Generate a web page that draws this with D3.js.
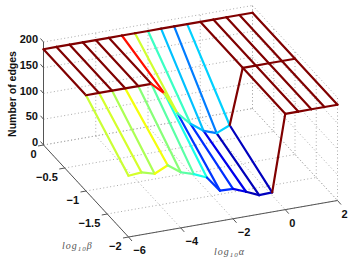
<!DOCTYPE html>
<html lang="en">
<head>
	<meta charset="UTF-8">
	<title>edges surface</title>
	<script src="https://cdnjs.cloudflare.com/ajax/libs/d3/7.8.5/d3.min.js"></script>
	<style>
	html, body { margin: 0; padding: 0; background: #fff; }
	svg { display: block; }
	text { font-family: "Liberation Sans", Arial, sans-serif; font-weight: bold; font-size: 11px; fill: #111; }
	.axisname { font-family: "Liberation Serif", serif; font-style: italic; font-weight: normal; font-size: 10px; fill: #555; letter-spacing: 1px; }
	.grid { fill: none; stroke: #aaa; stroke-width: 1px; stroke-dasharray: 1 2.5; }
	.axis { fill: none; stroke: #555; stroke-width: 1px; }
	.mesh { fill: none; stroke-width: 2.2px; stroke-linecap: round; }
	</style>
</head>
<body>
	<svg id="svg" width="354" height="265"></svg>
	<script>
		// grid of the surface
		var alphas = [-6, -5.5, -5, -4.5, -4, -3.5, -3, -2.5, -2, -1.5, -1, -0.5, 0, 0.5, 1, 1.5, 2];
		var betas = [0, -1, -2];

		// number of edges, one list per beta
		var edgesBeta0 = [186, 186, 186, 186, 186, 186, 186, 186, 186, 186, 186, 186, 186, 186, 186, 186, 186];
		var edgesBeta1 = [186, 186, 186, 186, 186, 186, 163, 120, 95, 77, 68, 79, 186, 186, 186, 186, 186];
		var edgesBeta2 = [119, 121, 114, 126, 108, 100, 89, 59, 58, 48, 37, 38, 186, 186, 186, 186, 186];
		var rows = [edgesBeta0, edgesBeta1, edgesBeta2];

		var alphaTicks = [-6, -4, -2, 0, 2];
		var betaTicks = [0, -0.5, -1, -1.5, -2];
		var zTicks = [0, 50, 100, 150, 200];

		var svg = d3.select('#svg');

		// fixed view of the box, each axis moves the point along its own screen direction
		var alphaX = d3.scaleLinear().domain([-6, 2]).range([0, 209]),
			alphaY = d3.scaleLinear().domain([-6, 2]).range([0, -36.5]),
			betaX = d3.scaleLinear().domain([0, -2]).range([43.5, 128.5]),
			betaY = d3.scaleLinear().domain([0, -2]).range([0, 92]),
			zY = d3.scaleLinear().domain([0, 200]).range([145, 42]);

		function project(a, b, z) {
			return [alphaX(a) + betaX(b), alphaY(a) + betaY(b) + zY(z)];
		}

		// jet colormap, stops picked by eye against the picture
		var jet = d3.scaleLinear()
			.domain([28, 52, 85, 128, 165, 186])
			.range(['#00008f', '#0000ff', '#00ffff', '#ffff00', '#ff0000', '#800000'])
			.clamp(true);

		var line = d3.line();

		function addLine(cls, pts) {
			return svg.append('path').attr('class', cls).attr('d', line(pts));
		}

		// dotted grid on floor and the two back walls
		alphaTicks.forEach(function (a) {
			addLine('grid', [project(a, 0, 0), project(a, -2, 0)]);
			addLine('grid', [project(a, 0, 0), project(a, 0, 200)]);
		});
		betaTicks.forEach(function (b) {
			addLine('grid', [project(-6, b, 0), project(2, b, 0)]);
			addLine('grid', [project(2, b, 0), project(2, b, 200)]);
		});
		zTicks.forEach(function (z) {
			addLine('grid', [project(-6, 0, z), project(2, 0, z)]);
			addLine('grid', [project(2, 0, z), project(2, -2, z)]);
		});

		// axis lines
		addLine('axis', [project(-6, 0, 200), project(-6, 0, 0), project(-6, -2, 0), project(2, -2, 0)]);

		// tick marks
		zTicks.forEach(function (z) {
			var p = project(-6, 0, z);
			addLine('axis', [p, [p[0] - 3, p[1] - 3.5]]);
		});
		betaTicks.forEach(function (b) {
			var p = project(-6, b, 0);
			addLine('axis', [p, [p[0] - 5.5, p[1] + 1]]);
		});
		alphaTicks.forEach(function (a) {
			var p = project(a, -2, 0);
			addLine('axis', [p, [p[0] + 3.5, p[1] + 4]]);
		});

		// mesh segments take the colour of the vertex they end on
		var segments = [];
		alphas.forEach(function (a, j) {
			betas.forEach(function (b, i) {
				if (i > 0) segments.push({ from: [a, betas[i - 1], rows[i - 1][j]], to: [a, b, rows[i][j]] });
			});
		});
		betas.forEach(function (b, i) {
			alphas.forEach(function (a, j) {
				if (j > 0) segments.push({ from: [alphas[j - 1], b, rows[i][j - 1]], to: [a, b, rows[i][j]] });
			});
		});

		svg.selectAll('path.mesh')
			.data(segments)
			.enter().append('path')
			.attr('class', 'mesh')
			.attr('stroke', function (d) { return jet(d.to[2]); })
			.attr('d', function (d) { return line([project.apply(null, d.from), project.apply(null, d.to)]); });

		function minus(v) {
			return String(v).replace('-', '\u2212');
		}

		// tick labels
		svg.selectAll('text.zt')
			.data(zTicks)
			.enter().append('text')
			.attr('class', 'zt')
			.attr('text-anchor', 'end')
			.attr('x', function (d) { return project(-6, 0, d)[0] - 5.5; })
			.attr('y', function (d) { return project(-6, 0, d)[1] + 1; })
			.text(minus);

		svg.selectAll('text.bt')
			.data(betaTicks)
			.enter().append('text')
			.attr('class', 'bt')
			.attr('text-anchor', 'end')
			.attr('x', function (d) { return project(-6, d, 0)[0] - 7; })
			.attr('y', function (d) { return project(-6, d, 0)[1] + 13; })
			.text(minus);

		svg.selectAll('text.at')
			.data(alphaTicks)
			.enter().append('text')
			.attr('class', 'at')
			.attr('text-anchor', 'middle')
			.attr('x', function (d) { return project(d, -2, 0)[0] + (d < 0 ? 11 : 7); })
			.attr('y', function (d) { return project(d, -2, 0)[1] + 17; })
			.text(minus);

		// axis names
		svg.append('text')
			.attr('transform', 'translate(16,94) rotate(-90)')
			.attr('text-anchor', 'middle')
			.style('font-size', '10.5px')
			.text('Number of edges');

		function subName(x, y, greek) {
			var t = svg.append('text').attr('class', 'axisname').attr('x', x).attr('y', y);
			t.append('tspan').text('log');
			t.append('tspan').attr('dy', 2).style('font-size', '7px').text('10');
			t.append('tspan').attr('dy', -2).text(greek);
		}
		subName(62, 249, '\u03b2');
		subName(214, 255, '\u03b1');
	</script>
</body>
</html>
